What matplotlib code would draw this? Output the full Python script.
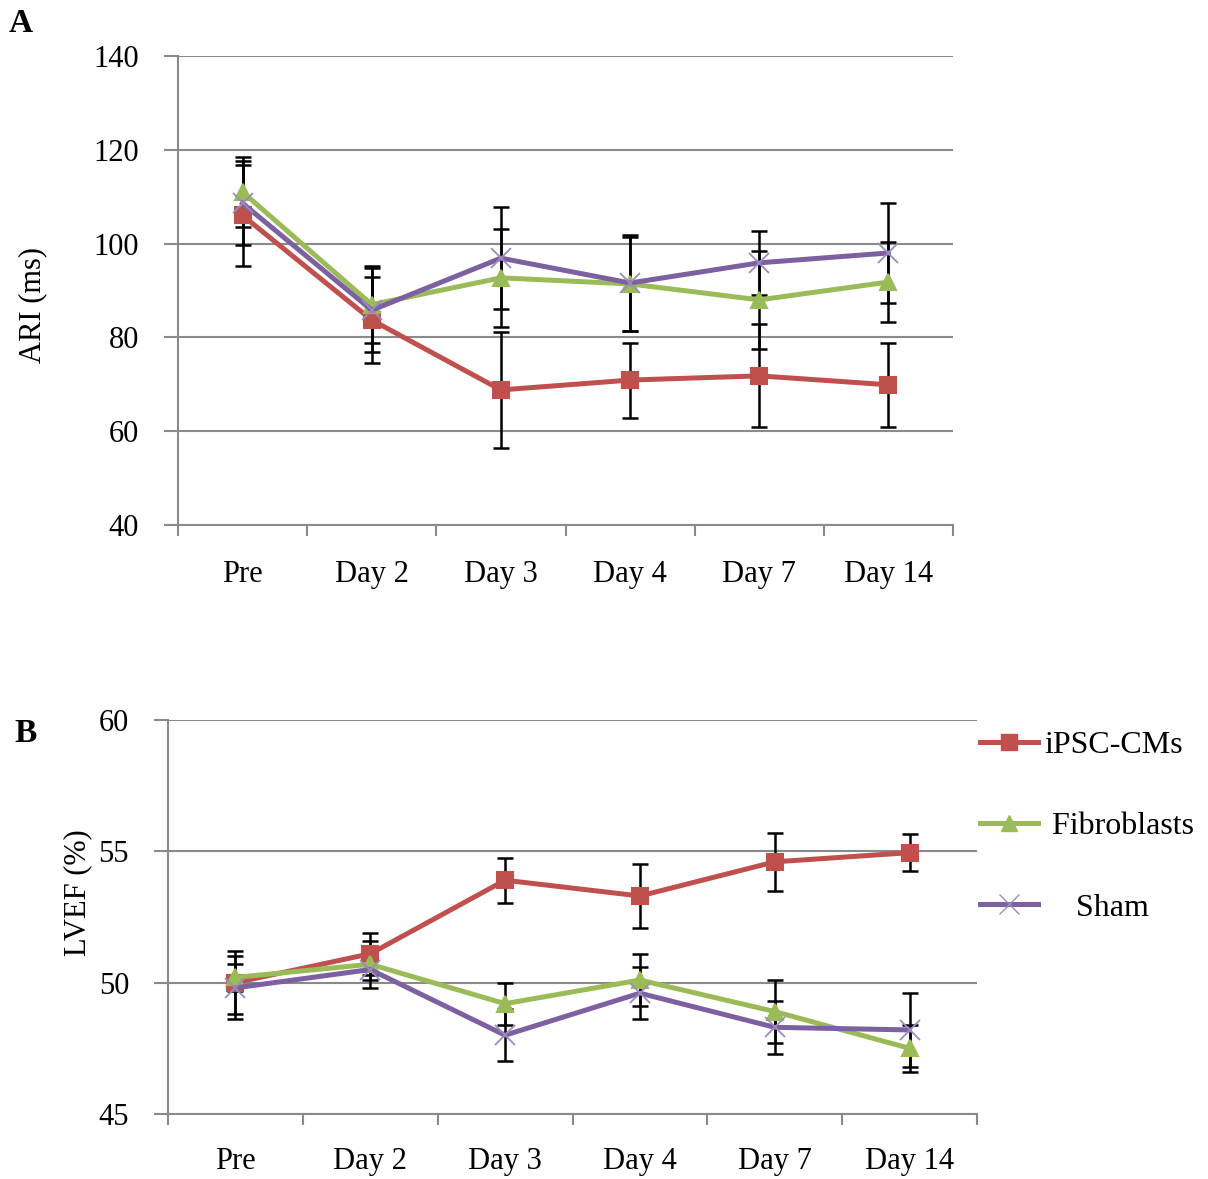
"""
ARI and LVEF after cell transplantation (two panel line chart with error bars)
"""
import matplotlib
matplotlib.use('Agg')
import matplotlib.pyplot as plt
from matplotlib.lines import Line2D

# Categories
days = ['Pre', 'Day 2', 'Day 3', 'Day 4', 'Day 7', 'Day 14']
groups = ['iPSC-CMs', 'Fibroblasts', 'Sham']

# Panel A - ARI (ms)
ari_ipsc = [106.0, 83.7, 68.8, 70.9, 71.8, 69.9]
ari_ipsc_err = [10.8, 9.2, 12.4, 8.0, 11.0, 9.0]
ari_fib = [111.0, 87.0, 92.7, 91.4, 88.0, 91.8]
ari_fib_err = [7.5, 8.2, 10.4, 10.0, 10.4, 8.5]
ari_sham = [108.6, 85.8, 96.9, 91.6, 95.9, 98.0]
ari_sham_err = [9.0, 9.0, 10.9, 10.2, 6.8, 10.7]

# Panel B - LVEF (%)
lvef_ipsc = [50.0, 51.1, 53.9, 53.3, 54.6, 54.95]
lvef_ipsc_err = [1.2, 0.8, 0.85, 1.2, 1.1, 0.7]
lvef_fib = [50.2, 50.7, 49.2, 50.1, 48.9, 47.5]
lvef_fib_err = [0.5, 0.9, 0.8, 1.0, 1.2, 0.9]
lvef_sham = [49.8, 50.5, 48.0, 49.6, 48.3, 48.2]
lvef_sham_err = [1.2, 0.4, 1.0, 1.0, 1.0, 1.4]

colors = ['#C0504D', '#9BBB59', '#7D60A0']
markers = ['s', '^', 'x']
grey = '#8a8a8a'

plt.rcParams['font.family'] = ['Liberation Serif', 'DejaVu Serif']


def draw_panel(ax, series, errors, ylim, yticks, xpad):
    """
    Draw one panel: lines with markers, black error bars, Excel-like axes
    """
    x = [i + 0.5 for i in range(len(days))]
    for vals, errs, col, mk in zip(series, errors, colors, markers):
        ax.errorbar(x, vals, yerr=errs, fmt='none', ecolor='black',
                    elinewidth=1.8, capsize=6, capthick=1.8, zorder=2)
        ax.plot(x, vals, color=col, linewidth=3.6, marker=mk,
                markersize=12 if mk != 'x' else 14,
                markeredgewidth=1.5 if mk != 'x' else 1.3,
                markeredgecolor=col if mk != 'x' else '#9a8cbf', zorder=3)
    ax.set_xlim(0, len(days))
    ax.set_ylim(*ylim)
    ax.set_yticks(yticks)
    ax.set_xticks(range(len(days) + 1))
    ax.set_xticklabels([])
    ax.set_xticks(x, minor=True)
    ax.set_xticklabels(days, minor=True)
    ax.tick_params(axis='x', which='major', length=8, width=1.5, color=grey, direction='out')
    ax.tick_params(axis='x', which='minor', length=0, pad=xpad, labelsize=22)
    ax.tick_params(axis='y', length=10, width=1.5, color=grey, pad=18, labelsize=22)
    ax.grid(axis='y', color=grey, linewidth=1.5)
    ax.set_axisbelow(True)
    for side in ['top', 'right']:
        ax.spines[side].set_visible(False)
    for side in ['left', 'bottom']:
        ax.spines[side].set_color(grey)
        ax.spines[side].set_linewidth(1.5)


fig = plt.figure(figsize=(12.08, 11.79), dpi=100)

ax1 = fig.add_axes([178 / 1208, 1 - 525 / 1179, 775 / 1208, 469 / 1179])
draw_panel(ax1, [ari_ipsc, ari_fib, ari_sham], [ari_ipsc_err, ari_fib_err, ari_sham_err],
           (40, 140), [40, 60, 80, 100, 120, 140], 25)

ax2 = fig.add_axes([168 / 1208, 1 - 1114 / 1179, 809 / 1208, 394 / 1179])
draw_panel(ax2, [lvef_ipsc, lvef_fib, lvef_sham], [lvef_ipsc_err, lvef_fib_err, lvef_sham_err],
           (45, 60), [45, 50, 55, 60], 24)

# Axis titles and panel letters
fig.text(33 / 1208, 1 - 305 / 1179, 'ARI (ms)', rotation=90, ha='center', va='center', fontsize=22)
fig.text(78 / 1208, 1 - 893 / 1179, 'LVEF (%)', rotation=90, ha='center', va='center', fontsize=22)
fig.text(9 / 1208, 1 - 24 / 1179, 'A', fontsize=24, fontweight='bold', va='center')
fig.text(14 / 1208, 1 - 733 / 1179, 'B', fontsize=24, fontweight='bold', va='center')

# Legend beside panel B
handles = []
for col, mk in zip(colors, markers):
    handles.append(Line2D([], [], color=col, linewidth=3.6, marker=mk,
                          markersize=12 if mk != 'x' else 14,
                          markeredgecolor=col if mk != 'x' else '#9a8cbf'))
fig.legend(handles, [groups[0], ' ' + groups[1], '    ' + groups[2]],
           loc='upper left', bbox_to_anchor=(980 / 1208, 1 - 731 / 1179),
           frameon=False, fontsize=23, labelspacing=1.62, handlelength=1.8,
           handletextpad=0.2, borderpad=0, borderaxespad=0)

plt.savefig('out.png', dpi=100)
